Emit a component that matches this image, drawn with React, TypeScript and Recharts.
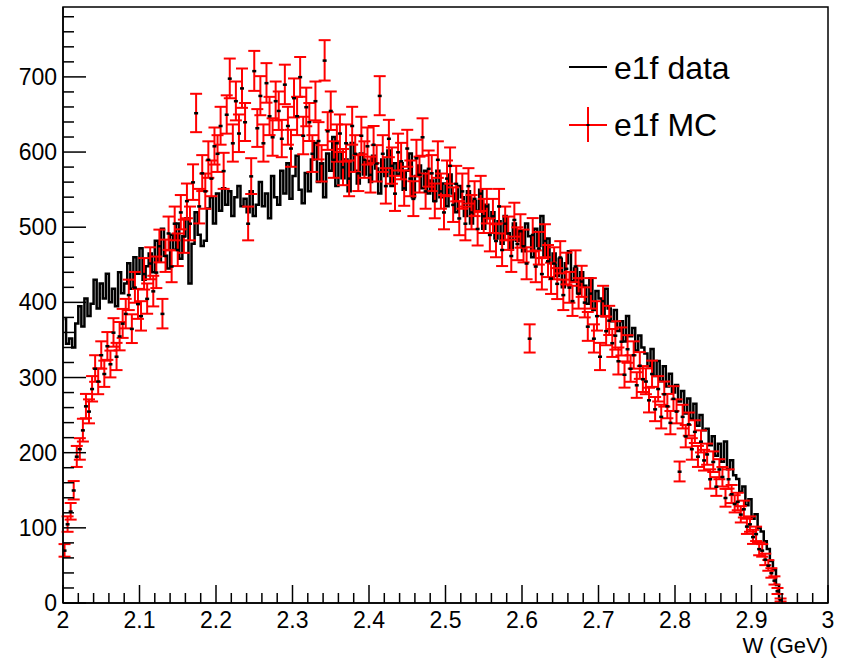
import {
  ComposedChart,
  Line,
  Scatter,
  ErrorBar,
  XAxis,
  YAxis,
  ReferenceArea,
} from "recharts";

// histogram binning (GeV)
const binLow = 2.0;
const binWidth = 0.004;

// e1f data, counts per bin
const dataCounts = [
  378, 345, 352, 340, 372, 395, 368, 405, 382, 398,
  430, 392, 425, 405, 438, 400, 418, 395, 440, 412,
  425, 452, 418, 460, 438, 472, 430, 448, 465, 440,
  482, 455, 498, 462, 445, 490, 470, 505, 458, 488,
  512, 425, 478, 520, 490, 475, 482, 525, 540, 505,
  545, 522, 552, 530, 548, 515, 540, 555, 528, 538,
  520, 548, 515, 530, 560, 528, 545, 512, 568, 540,
  530, 575, 545, 585, 538, 568, 595, 550, 532, 572,
  548, 590, 612, 560, 585, 540, 598, 575, 620, 555,
  600, 565, 590, 548, 612, 575, 558, 598, 570, 588,
  560, 595, 578, 545, 590, 568, 602, 555, 585, 570,
  585, 550, 575, 598, 540, 568, 582, 552, 575, 545,
  562, 535, 575, 540, 558, 528, 570, 545, 520, 555,
  540, 515, 548, 505, 535, 522, 550, 498, 530, 512,
  520, 485, 508, 478, 515, 492, 470, 505, 482, 496,
  468, 505, 488, 460, 498, 475, 515, 462, 485, 452,
  465, 435, 458, 420, 452, 468, 428, 445, 412, 440,
  422, 398, 432, 390, 415, 405, 382, 418, 392, 375,
  390, 362, 375, 348, 382, 355, 366, 336, 356, 340,
  332, 315, 338, 302, 322, 295, 315, 288, 305, 280,
  290, 268, 282, 252, 272, 245, 265, 236, 250, 230,
  232, 210, 222, 196, 212, 188, 215, 178, 190, 170,
  165, 148, 155, 130, 138, 112, 118, 100, 95, 82,
  72, 56, 44, 24, 6,
];

// e1f MC, counts per bin
const mcCounts = [
  70, 105, 122, 150, 195, 205, 230, 262, 255, 285,
  312, 295, 330, 305, 342, 318, 360, 328, 355, 372,
  385, 410, 365, 420, 398, 382, 438, 405, 452, 415,
  440, 475, 385, 462, 492, 448, 505, 470, 520, 488,
  535, 505, 560, 652, 528, 572, 548, 590, 565, 608,
  598, 635, 575, 650, 698, 612, 668, 625, 685, 640,
  505, 568, 708, 632, 675, 612, 692, 648, 620, 668,
  655, 618, 690, 635, 605, 672, 648, 700, 622, 660,
  640, 598, 668, 615, 585, 722, 628, 655, 590, 612,
  625, 580, 612, 565, 635, 598, 572, 622, 590, 608,
  570, 610, 585, 675, 598, 555, 618, 582, 545, 600,
  588, 552, 605, 565, 538, 592, 570, 620, 548, 578,
  572, 535, 590, 548, 520, 565, 582, 530, 558, 512,
  548, 505, 555, 520, 538, 498, 545, 515, 528, 490,
  515, 482, 528, 470, 505, 492, 462, 510, 478, 495,
  475, 452, 352, 490, 448, 472, 438, 482, 455, 432,
  452, 425, 460, 410, 445, 420, 402, 448, 412, 428,
  400, 368, 412, 352, 382, 328, 402, 362, 376, 346,
  356, 322, 348, 304, 338, 312, 330, 290, 316, 298,
  295, 270, 305, 258, 285, 248, 278, 262, 240, 272,
  255, 175, 248, 222, 238, 205, 228, 195, 215, 190,
  198, 165, 188, 155, 178, 168, 140, 165, 145, 132,
  135, 118, 125, 102, 105, 88, 92, 72, 70, 58,
  50, 40, 30, 16, 4,
];

const xMajorTicks = [2, 2.1, 2.2, 2.3, 2.4, 2.5, 2.6, 2.7, 2.8, 2.9, 3];
const yMajorTicks = [0, 100, 200, 300, 400, 500, 600, 700];
const yMax = 793;

const FONT = "'Liberation Sans', Arial, Helvetica, sans-serif";

const rows = dataCounts.map((v, i) => ({
  w: binLow + (i + 0.5) * binWidth,
  data: v,
  mc: mcCounts[i],
  err: Math.sqrt(mcCounts[i]),
}));

// minor ticks every 1/5 of a major step
const xTicks: number[] = [];
for (let i = 0; i <= 50; i++) xTicks.push(Math.round((2 + i * 0.02) * 100) / 100);
const yTicks: number[] = [];
for (let v = 0; v <= 780; v += 20) yTicks.push(v);

const isMajorX = (v: number) => xMajorTicks.some((m) => Math.abs(m - v) < 1e-6);

const XTick = (props: any) => {
  const { x, y, payload } = props;
  const major = isMajorX(payload.value);
  return (
    <g>
      <line x1={x} y1={y} x2={x} y2={y - (major ? 18 : 10)} stroke="#000" strokeWidth={1.5} />
      {major && (
        <text x={x} y={y + 25} textAnchor="middle" fontSize={23} fontFamily={FONT} fill="#000">
          {String(payload.value)}
        </text>
      )}
    </g>
  );
};

const YTick = (props: any) => {
  const { x, y, payload } = props;
  const major = yMajorTicks.includes(payload.value);
  return (
    <g>
      <line x1={x} y1={y} x2={x + (major ? 23 : 11)} y2={y} stroke="#000" strokeWidth={1.5} />
      {major && (
        <text x={x - 6} y={y + 8} textAnchor="end" fontSize={23} fontFamily={FONT} fill="#000">
          {payload.value}
        </text>
      )}
    </g>
  );
};

const AxisTitle = (props: any) => {
  const { viewBox } = props;
  return (
    <text
      x={viewBox.x + viewBox.width}
      y={viewBox.y + 50}
      textAnchor="end"
      fontSize={22}
      fontFamily={FONT}
      fill="#000"
    >
      W (GeV)
    </text>
  );
};

const Marker = (props: any) => (
  <rect x={props.cx - 2} y={props.cy - 1} width={4} height={2.5} fill="#000" />
);

function LegendBox() {
  return (
    <svg
      width={260}
      height={120}
      style={{ position: "absolute", left: 560, top: 40 }}
    >
      <line x1={9} y1={27} x2={47} y2={27} stroke="#000" strokeWidth={2} />
      <text x={54} y={39} fontSize={32} fontFamily={FONT} fill="#000">
        e1f data
      </text>
      <line x1={9} y1={85} x2={47} y2={85} stroke="#ff0000" strokeWidth={2} />
      <line x1={28} y1={67} x2={28} y2={102} stroke="#ff0000" strokeWidth={2} />
      <rect x={26.5} y={84} width={3} height={2} fill="#000" />
      <text x={54} y={96} fontSize={32} fontFamily={FONT} fill="#000">
        e1f MC
      </text>
    </svg>
  );
}

export default function App() {
  return (
    <div
      style={{
        position: "absolute",
        left: 0,
        top: 0,
        width: 852,
        height: 661,
        background: "#fff",
      }}
    >
      <ComposedChart
        width={852}
        height={661}
        data={rows}
        margin={{ top: 7, right: 24, left: 0, bottom: 0 }}
      >
        <ReferenceArea
          x1={2}
          x2={3}
          y1={0}
          y2={yMax}
          fill="none"
          stroke="#000"
          strokeWidth={1.5}
          ifOverflow="visible"
        />
        <XAxis
          dataKey="w"
          type="number"
          domain={[2, 3]}
          allowDataOverflow
          ticks={xTicks}
          interval={0}
          tick={<XTick />}
          tickLine={false}
          tickSize={0}
          tickMargin={0}
          height={58}
          axisLine={{ stroke: "#000", strokeWidth: 1.5 }}
          label={<AxisTitle />}
        />
        <YAxis
          type="number"
          domain={[0, yMax]}
          allowDataOverflow
          ticks={yTicks}
          interval={0}
          tick={<YTick />}
          tickLine={false}
          tickSize={0}
          tickMargin={0}
          width={63}
          axisLine={{ stroke: "#000", strokeWidth: 1.5 }}
        />
        <Line
          type="step"
          dataKey="data"
          stroke="#000"
          strokeWidth={2.5}
          dot={false}
          activeDot={false}
          isAnimationActive={false}
        />
        <Scatter dataKey="mc" shape={<Marker />} isAnimationActive={false}>
          <ErrorBar
            dataKey="err"
            direction="y"
            width={6}
            stroke="#ff0000"
            strokeWidth={2}
            isAnimationActive={false}
          />
        </Scatter>
      </ComposedChart>
      <LegendBox />
    </div>
  );
}
